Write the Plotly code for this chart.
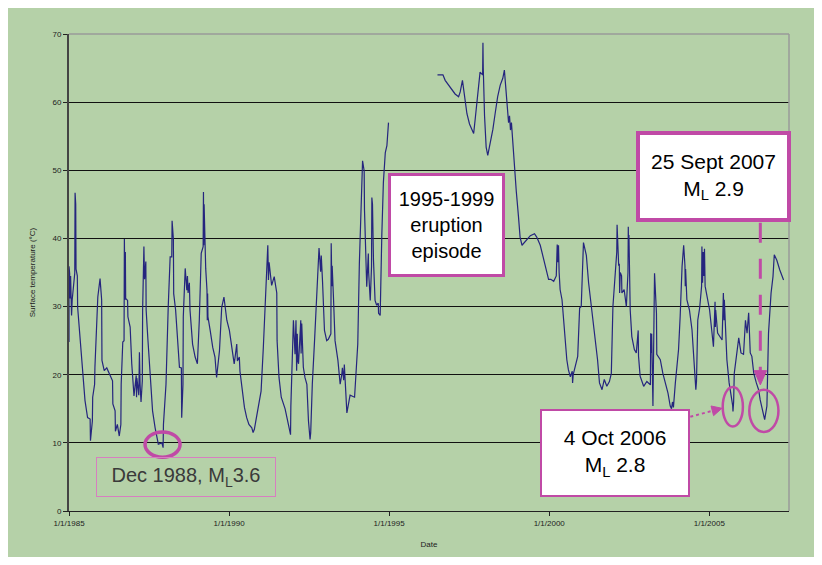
import plotly.graph_objects as go

# ---- data (decimal year, lake temperature in degC) ----
years = [
    1985.00, 1985.00, 1985.01, 1985.02, 1985.03, 1985.05, 1985.08, 1985.10, 1985.18, 1985.19,
    1985.20, 1985.21, 1985.22, 1985.26, 1985.27, 1985.34, 1985.43, 1985.50, 1985.58, 1985.66,
    1985.67, 1985.73, 1985.74, 1985.80, 1985.81, 1985.90, 1985.97, 1986.02, 1986.03, 1986.10,
    1986.18, 1986.26, 1986.36, 1986.37, 1986.44, 1986.45, 1986.51, 1986.57, 1986.62, 1986.63,
    1986.68, 1986.72, 1986.73, 1986.75, 1986.76, 1986.77, 1986.83, 1986.84, 1986.91, 1986.96,
    1987.03, 1987.10, 1987.11, 1987.12, 1987.18, 1987.20, 1987.22, 1987.25, 1987.29, 1987.30,
    1987.34, 1987.36, 1987.40, 1987.41, 1987.46, 1987.53, 1987.61, 1987.69, 1987.79, 1987.90,
    1987.94, 1987.95, 1988.03, 1988.10, 1988.16, 1988.21, 1988.22, 1988.26, 1988.27, 1988.33,
    1988.39, 1988.45, 1988.51, 1988.52, 1988.56, 1988.57, 1988.63, 1988.68, 1988.70, 1988.72,
    1988.76, 1988.78, 1988.86, 1988.94, 1989.01, 1989.07, 1989.13, 1989.19, 1989.20, 1989.21,
    1989.22, 1989.27, 1989.31, 1989.32, 1989.33, 1989.34, 1989.41, 1989.49, 1989.56, 1989.61,
    1989.70, 1989.77, 1989.84, 1989.93, 1990.01, 1990.08, 1990.16, 1990.20, 1990.24, 1990.26,
    1990.32, 1990.34, 1990.40, 1990.48, 1990.55, 1990.62, 1990.71, 1990.75, 1990.79, 1990.83,
    1990.92, 1991.00, 1991.07, 1991.15, 1991.21, 1991.23, 1991.25, 1991.33, 1991.41, 1991.49,
    1991.50, 1991.56, 1991.63, 1991.75, 1991.92, 1991.93, 1992.01, 1992.06, 1992.09, 1992.11,
    1992.13, 1992.15, 1992.17, 1992.24, 1992.25, 1992.27, 1992.32, 1992.37, 1992.43, 1992.48,
    1992.53, 1992.55, 1992.60, 1992.67, 1992.74, 1992.81, 1992.86, 1992.88, 1992.92, 1992.98,
    1993.05, 1993.10, 1993.18, 1993.19, 1993.21, 1993.22, 1993.26, 1993.31, 1993.40, 1993.47,
    1993.52, 1993.54, 1993.58, 1993.60, 1993.68, 1993.78, 1993.92, 1993.96, 1994.02, 1994.07,
    1994.11, 1994.17, 1994.22, 1994.23, 1994.30, 1994.35, 1994.36, 1994.41, 1994.45, 1994.46,
    1994.47, 1994.48, 1994.51, 1994.56, 1994.61, 1994.66, 1994.67, 1994.72, 1994.77, 1994.82,
    1994.88, 1994.93, 1994.98,
    1995.60,
    1996.51, 1996.68, 1996.75, 1996.91, 1997.06, 1997.17, 1997.22, 1997.29, 1997.35, 1997.43,
    1997.51, 1997.58, 1997.64, 1997.69, 1997.74, 1997.79, 1997.84, 1997.92, 1997.93, 1997.94,
    1997.98, 1998.03, 1998.08, 1998.16, 1998.24, 1998.31, 1998.39, 1998.47, 1998.55, 1998.60,
    1998.68, 1998.73, 1998.76, 1998.79, 1998.82, 1998.89, 1998.97, 1999.04, 1999.09, 1999.15,
    1999.25, 1999.41, 1999.54, 1999.61, 1999.72, 1999.82, 1999.91, 1999.98, 2000.05, 2000.14,
    2000.22, 2000.25, 2000.27, 2000.29, 2000.31, 2000.34, 2000.40, 2000.45, 2000.50, 2000.55,
    2000.60, 2000.66, 2000.72, 2000.73, 2000.75, 2000.81, 2000.89, 2000.95, 2001.00, 2001.07,
    2001.16, 2001.23, 2001.28, 2001.37, 2001.44, 2001.51, 2001.57, 2001.65, 2001.72, 2001.80,
    2001.88, 2001.94, 2001.99, 2002.06, 2002.11, 2002.12, 2002.14, 2002.17, 2002.19, 2002.20,
    2002.22, 2002.26, 2002.27, 2002.34, 2002.41, 2002.46, 2002.47, 2002.48, 2002.49, 2002.53,
    2002.58, 2002.66, 2002.72, 2002.78, 2002.79, 2002.84, 2002.95, 2003.05, 2003.16, 2003.17,
    2003.19, 2003.20, 2003.23, 2003.24, 2003.29, 2003.35, 2003.36, 2003.47, 2003.55, 2003.63,
    2003.71, 2003.78, 2003.82, 2003.85, 2003.88, 2003.94, 2003.99, 2004.04, 2004.09, 2004.15,
    2004.20, 2004.24, 2004.25, 2004.26, 2004.30, 2004.38, 2004.46, 2004.51, 2004.56, 2004.58,
    2004.60, 2004.64, 2004.70, 2004.76, 2004.77, 2004.79, 2004.81, 2004.83, 2004.85, 2004.87,
    2005.01, 2005.08, 2005.13, 2005.18, 2005.19, 2005.20, 2005.26, 2005.34, 2005.40, 2005.44,
    2005.46, 2005.47, 2005.55, 2005.62, 2005.69, 2005.73, 2005.74, 2005.76, 2005.78, 2005.84,
    2005.92, 2005.99, 2006.07, 2006.13, 2006.18, 2006.23, 2006.28, 2006.33, 2006.39, 2006.47,
    2006.54, 2006.59, 2006.67, 2006.73, 2006.80, 2006.85, 2006.93, 2006.99, 2007.03, 2007.11,
    2007.20, 2007.27, 2007.32,
]
temps = [
    24.8, 35.9, 30.0, 34.9, 31.2, 34.5, 28.7, 31.0, 34.9, 46.7,
    36.0, 45.0, 35.5, 34.5, 29.9, 25.5, 21.1, 16.2, 13.7, 13.5,
    10.3, 13.2, 16.7, 18.6, 21.1, 31.4, 34.1, 31.0, 22.1, 20.6,
    21.0, 20.2, 19.1, 15.7, 14.7, 11.7, 12.7, 11.0, 12.7, 18.6,
    24.8, 25.0, 39.9, 31.0, 38.0, 31.2, 30.9, 28.5, 27.0, 21.6,
    16.9, 19.9, 16.7, 19.5, 17.0, 23.3, 18.6, 16.0, 19.1, 29.5,
    38.8, 34.0, 36.6, 29.5, 25.5, 19.6, 14.7, 12.2, 9.8, 10.0,
    9.3, 12.7, 18.6, 30.0, 37.3, 37.3, 42.6, 39.9, 31.9, 29.5,
    25.0, 21.1, 21.0, 13.7, 18.6, 28.5, 35.6, 32.4, 34.5, 32.0,
    33.5, 29.5, 24.5, 22.6, 21.6, 28.0, 37.8, 38.8, 46.8, 39.0,
    45.0, 35.6, 32.4, 28.0, 31.9, 28.5, 26.5, 24.0, 22.6, 19.6,
    23.5, 29.9, 31.4, 28.0, 26.5, 24.5, 21.6, 23.0, 24.5, 22.0,
    22.6, 20.5, 18.0, 15.2, 13.7, 12.7, 12.2, 11.5, 12.0, 13.2,
    15.2, 17.6, 24.0, 33.4, 39.0, 33.9, 36.5, 33.1, 34.4, 32.0,
    25.0, 19.6, 16.7, 15.0, 11.2, 15.4, 28.0, 23.0, 28.0, 20.6,
    26.0, 22.0, 21.6, 28.0, 23.1, 27.5, 21.1, 19.6, 18.6, 13.2,
    10.5, 11.5, 18.6, 25.0, 32.2, 38.6, 35.1, 37.5, 33.6, 26.5,
    25.0, 25.2, 26.0, 39.3, 33.0, 36.0, 31.4, 25.0, 22.1, 18.6,
    20.0, 21.0, 19.2, 21.5, 14.4, 17.0, 16.7, 19.9, 24.5, 36.4,
    41.3, 51.4, 49.9, 44.2, 32.9, 37.8, 35.0, 30.9, 35.9, 46.0,
    42.3, 45.0, 36.9, 30.9, 30.2, 30.5, 29.0, 28.7, 40.3, 48.2,
    52.6, 53.6, 57.0,
    None,
    64.0, 64.0, 63.2, 62.2, 61.2, 60.8, 61.5, 63.2, 61.0, 58.3,
    56.8, 55.9, 55.4, 57.6, 60.0, 61.5, 64.4, 64.0, 68.7, 65.0,
    58.0, 53.4, 52.2, 53.9, 56.0, 58.3, 60.8, 62.5, 63.5, 64.7,
    60.0, 57.0, 58.0, 55.9, 57.0, 52.0, 47.0, 43.2, 40.2, 39.0,
    39.5, 40.4, 40.7, 40.2, 39.0, 37.2, 35.4, 34.0, 34.0, 33.7,
    34.5, 39.1, 36.5, 39.0, 35.0, 32.5, 31.0, 28.0, 24.0, 22.2,
    20.7, 19.7, 20.5, 18.8, 20.0, 21.2, 22.7, 29.8, 30.0, 39.4,
    37.5, 33.5, 31.5, 28.6, 25.6, 22.2, 18.8, 17.8, 19.3, 18.3,
    19.0, 20.2, 30.0, 35.2, 38.0, 42.0, 38.0, 36.0, 36.3, 32.0,
    35.0, 34.5, 32.0, 32.5, 30.0, 35.0, 41.7, 37.5, 40.5, 29.5,
    25.6, 23.7, 23.2, 26.5, 22.7, 19.8, 18.3, 19.0, 18.5, 26.1,
    23.2, 26.0, 20.0, 15.4, 34.9, 29.0, 23.0, 22.2, 20.2, 18.8,
    17.3, 15.4, 15.0, 16.0, 15.2, 18.8, 21.2, 23.7, 28.5, 35.9,
    39.0, 36.0, 33.0, 35.5, 31.0, 29.5, 26.6, 23.2, 19.3, 17.8,
    19.0, 28.0, 29.8, 33.0, 38.8, 33.5, 38.0, 34.5, 38.5, 33.0,
    29.5, 26.1, 24.1, 30.7, 27.0, 29.5, 26.1, 25.6, 25.1, 32.0,
    28.0, 31.0, 22.2, 18.8, 16.8, 15.5, 14.6, 16.0, 20.2, 22.7,
    25.4, 23.2, 23.0, 28.0, 26.1, 29.1, 23.2, 22.7, 20.2, 18.8,
    17.8, 16.3, 14.4, 13.4, 15.4, 26.1, 32.0, 34.4, 37.6, 36.8,
    35.4, 34.4, 33.9,
]

tick_years = [1985, 1990, 1995, 2000, 2005]
tick_labels = ["1/1/1985", "1/1/1990", "1/1/1995", "1/1/2000", "1/1/2005"]
y_ticks = [0, 10, 20, 30, 40, 50, 60, 70]

n = min(len(years), len(temps))
years = years[:n]
temps = temps[:n]

GREEN = "#b5d1a8"
MAG = "#c04aa6"
LINE = "#25257e"
FONT = "Liberation Sans, Arial, sans-serif"

fig = go.Figure()
fig.add_trace(go.Scatter(x=years, y=temps, mode="lines",
                         line=dict(color=LINE, width=1.2), connectgaps=False,
                         showlegend=False, hoverinfo="skip"))

shapes = [
    # green chart background
    dict(type="rect", xref="paper", yref="paper", x0=-0.0861, x1=1.0361, y0=-0.0964, y1=1.0545,
         fillcolor=GREEN, line=dict(width=0), layer="below"),
    # grey plot-area border (top + right)
    dict(type="line", xref="paper", yref="paper", x0=0, x1=1, y0=1, y1=1,
         line=dict(color="#9a9a9a", width=1.5), layer="above"),
    dict(type="line", xref="paper", yref="paper", x0=1, x1=1, y0=0, y1=1,
         line=dict(color="#9a9a9a", width=1.5), layer="above"),
    # circles around events
    dict(type="circle", xref="x", yref="y", x0=1987.375, x1=1988.469, y0=7.9, y1=11.6,
         line=dict(color=MAG, width=3.5)),
    dict(type="circle", xref="x", yref="y", x0=2005.42, x1=2006.05, y0=12.4, y1=18.2,
         line=dict(color=MAG, width=2.5)),
    dict(type="circle", xref="x", yref="y", x0=2006.25, x1=2007.16, y0=11.6, y1=17.8,
         line=dict(color=MAG, width=2.5)),
    # dashed connector from 25 Sept box
    dict(type="line", xref="x", yref="y", x0=2006.594, x1=2006.594, y0=42.3, y1=20.5,
         line=dict(color=MAG, width=3, dash="20px,16px")),
    # arrow head of that connector
    dict(type="path", xref="x", yref="y",
         path="M 2006.40,20.6 L 2006.79,20.6 L 2006.594,18.5 Z",
         fillcolor=MAG, line=dict(color=MAG, width=1)),
    # dotted connector from 4 Oct box
    dict(type="line", xref="x", yref="y", x0=2004.406, x1=2005.1, y0=13.84, y1=14.7,
         line=dict(color=MAG, width=2, dash="dot")),
    # arrow head of that connector
    dict(type="path", xref="x", yref="y",
         path="M 2005.134,13.99 L 2005.055,15.41 L 2005.397,15.07 Z",
         fillcolor=MAG, line=dict(color=MAG, width=1)),
]

annotations = [
    dict(x=1996.797, y=41.97, xref="x", yref="y", text="1995-1999<br>eruption<br>episode",
         showarrow=False, width=111, height=98, bgcolor="white", bordercolor=MAG, borderwidth=3,
         borderpad=0, font=dict(family=FONT, size=20, color="black"), align="center", valign="middle"),
    dict(x=2005.1375, y=49.06, xref="x", yref="y", text="25 Sept 2007<br>M<sub>L</sub> 2.9",
         showarrow=False, width=147, height=83, bgcolor="white", bordercolor=MAG, borderwidth=4,
         borderpad=0, font=dict(family=FONT, size=21, color="black"), align="center", valign="middle"),
    dict(x=2002.06, y=8.51, xref="x", yref="y", text="4 Oct 2006<br>M<sub>L</sub> 2.8",
         showarrow=False, width=146, height=84, bgcolor="white", bordercolor=MAG, borderwidth=2,
         borderpad=0, font=dict(family=FONT, size=21, color="black"), align="center", valign="middle"),
    dict(x=1988.656, y=4.92, xref="x", yref="y", text="Dec 1988, M<sub>L</sub>3.6",
         showarrow=False, width=178, height=38, bgcolor="rgba(0,0,0,0)", bordercolor="#d77fc0",
         borderwidth=1, borderpad=0, font=dict(family=FONT, size=20, color="#3a3a3a"),
         align="center", valign="middle"),
]

# The page body has an 8px margin, so the figure is laid out 8px smaller
# with left/top margins reduced by 8px.
fig.update_layout(
    width=814, height=557,
    margin=dict(l=61, r=33, t=26, b=54),
    paper_bgcolor="white",
    plot_bgcolor="rgba(0,0,0,0)",
    shapes=shapes,
    annotations=annotations,
    font=dict(family=FONT, color="#222"),
    xaxis=dict(range=[1985, 2007.49], tickvals=tick_years, ticktext=tick_labels,
               ticks="outside", ticklen=4, tickcolor="#222", showline=True, linecolor="#222",
               linewidth=1, showgrid=False, zeroline=False,
               tickfont=dict(size=8, family=FONT, color="#222"),
               title=dict(text="Date", font=dict(size=8, family=FONT, color="#222"), standoff=14)),
    yaxis=dict(range=[0, 70], tickvals=y_ticks, ticks="outside", ticklen=4, tickcolor="#222",
               showline=True, linecolor="#444", linewidth=2, showgrid=True, gridcolor="#111",
               gridwidth=1, zeroline=False,
               tickfont=dict(size=8, family=FONT, color="#222"),
               title=dict(text="Surface temperature (°C)", font=dict(size=8, family=FONT, color="#222"),
                          standoff=16)),
)

fig.write_html("out.html")
